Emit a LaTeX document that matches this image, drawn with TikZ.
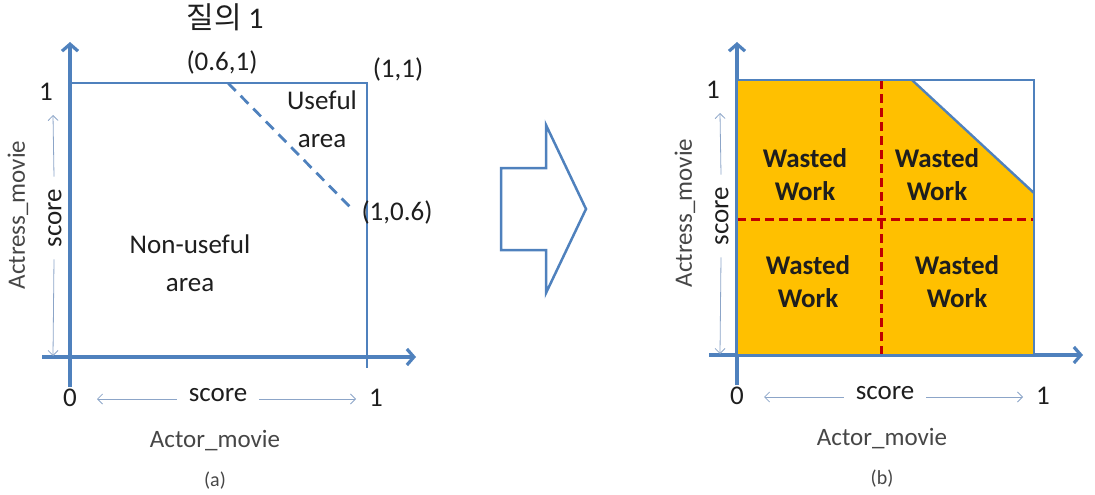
\documentclass[tikz,border=0pt]{standalone}
\usepackage{fontspec}
\setmainfont{Carlito}
\newfontfamily\kofont{Noto Sans CJK KR}
\usetikzlibrary{arrows.meta}

\definecolor{axisblue}{RGB}{79,129,189}
\definecolor{thinblue}{RGB}{140,165,200}
\definecolor{wastefill}{RGB}{255,192,0}
\definecolor{cutred}{RGB}{192,0,0}
\definecolor{inkgray}{RGB}{30,30,30}
\definecolor{namegray}{RGB}{70,70,70}

\tikzset{
    axisline/.style={axisblue, line width=3.2pt, -{Straight Barb[length=7pt,width=16pt]}},
    scorearrow/.style={thinblue, line width=0.8pt, -{Straight Barb[length=5pt,width=10pt]}},
    lbl/.style={inner sep=0pt, text=inkgray, font=\fontsize{27}{30}\selectfont},
    axname/.style={inner sep=0pt, text=namegray, font=\fontsize{25}{28}\selectfont},
    wlbl/.style={inner sep=0pt, text=inkgray, align=center,
        font=\fontsize{27}{33}\selectfont\bfseries},
}

\begin{document}
\begin{tikzpicture}[x=1pt, y=-1pt]
        \useasboundingbox (0,0) rectangle (1095,495);

        %-- axes and score labels, same for (a) and (b) --
        \foreach \dx/\dy/\tag/\yt in {0/0/a/42, 667/-2/b/44} {
                \begin{scope}[shift={(\dx,\dy)}]
                        \coordinate (ybot\tag) at (70,387);
                        \coordinate (ytop\tag) at (70,\yt);
                        \coordinate (xlft\tag) at (42,357);
                        \coordinate (xrgt\tag) at (416,357);
                        \draw[axisline] (ybot\tag) -- (ytop\tag);
                        \draw[axisline] (xlft\tag) -- (xrgt\tag);

                        % tick values
                        \node[lbl] (one\tag)  at (46,92)  {1};
                        \node[lbl] (zero\tag) at (70,398) {0};
                        \node[lbl] (unit\tag) at (376,398) {1};

                        % score along x
                        \node[lbl] (xs\tag) at (218,395) {score};
                        \coordinate (xl\tag) at (97,399);
                        \coordinate (xr\tag) at (356,399);
                        \draw[scorearrow] (xs\tag.west) ++(-12,4) -- (xl\tag);
                        \draw[scorearrow] (xs\tag.east) ++(12,4) -- (xr\tag);
                        \node[axname] (xn\tag) at (215,441) {Actor\_movie};

                        % score along y
                        \node[lbl, rotate=90] (ys\tag) at (55,218) {score};
                        \coordinate (yu\tag) at (53,115);
                        \coordinate (yd\tag) at (53,356);
                        \draw[scorearrow] (ys\tag.east) ++(-1,-12) -- (yu\tag);
                        \draw[scorearrow] (ys\tag.west) ++(-1,12) -- (yd\tag);
                        \node[axname, rotate=90] (yn\tag) at (18,215) {Actress\_movie};

                        % panel tag
                        \node[inner sep=0pt, text=namegray, font=\fontsize{20}{22}\selectfont]
                        (tag\tag) at (215,481) {(\tag)};
                \end{scope}
            }

        %-- (a): query region --
        \draw[axisblue, line width=1.3pt] (70,83) -- (367,83) -- (367,368);
        \draw[axisblue, line width=2.8pt, dash pattern=on 11pt off 7pt] (228,83) -- (354,211);

        \node[lbl, font=\fontsize{30}{33}\selectfont] (qry) at (225,17) {{\kofont 질의} 1};
        \node[lbl] (p61) at (222,62) {(0.6,1)};
        \node[lbl] (p11) at (398,69) {(1,1)};
        \node[lbl] (p16) at (397,212) {(1,0.6)};
        \node[lbl, align=center, font=\fontsize{27}{38}\selectfont] (use) at (322,119) {Useful\\area};
        \node[lbl, align=center, font=\fontsize{27}{38}\selectfont] (non) at (190,263) {Non-useful\\area};

        %-- block arrow --
        \draw[axisblue, line width=2.5pt, line join=miter]
        (501,168) -- (546,168) -- (546,125) -- (586,209) --
        (546,293) -- (546,250) -- (501,250) -- cycle;

        %-- (b): wasted work --
        \fill[wastefill] (737,80) -- (912,80) -- (1034,193) -- (1034,355) -- (737,355) -- cycle;
        \draw[cutred, line width=3pt, dash pattern=on 9pt off 5pt] (881,80) -- (881,355);
        \draw[cutred, line width=3pt, dash pattern=on 9pt off 5pt] (737,219) -- (1034,219);
        \draw[axisblue, line width=2.4pt] (737,80) rectangle (1034,355);
        \draw[axisblue, line width=2.4pt] (912,80) -- (1034,193);

        \node[wlbl] (w1) at (805,175) {Wasted\\Work};
        \node[wlbl] (w2) at (937,175) {Wasted\\Work};
        \node[wlbl] (w3) at (808,282) {Wasted\\Work};
        \node[wlbl] (w4) at (957,282) {Wasted\\Work};

    \end{tikzpicture}
\end{document}
